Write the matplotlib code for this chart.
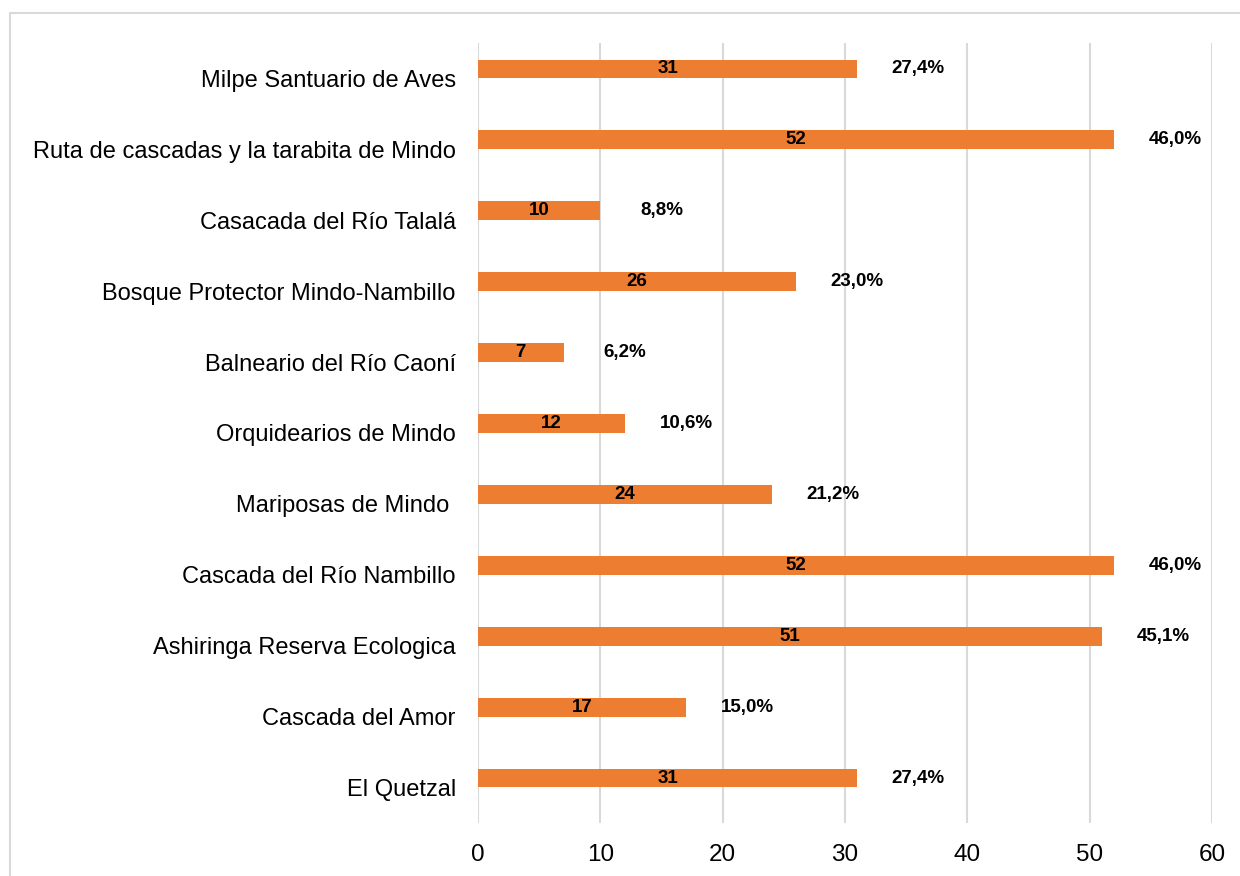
import matplotlib.pyplot as plt
from matplotlib.patches import Rectangle

# data, top to bottom
categories = [
    "Milpe Santuario de Aves",
    "Ruta de cascadas y la tarabita de Mindo",
    "Casacada del Río Talalá",
    "Bosque Protector Mindo-Nambillo",
    "Balneario del Río Caoní",
    "Orquidearios de Mindo",
    "Mariposas de Mindo ",
    "Cascada del Río Nambillo",
    "Ashiringa Reserva Ecologica",
    "Cascada del Amor",
    "El Quetzal",
]
counts = [31, 52, 10, 26, 7, 12, 24, 52, 51, 17, 31]
percents = ["27,4%", "46,0%", "8,8%", "23,0%", "6,2%", "10,6%",
            "21,2%", "46,0%", "45,1%", "15,0%", "27,4%"]
x_ticks = [0, 10, 20, 30, 40, 50, 60]

plt.rcParams['font.family'] = ['Liberation Sans', 'DejaVu Sans']

fig = plt.figure(figsize=(12.4, 8.76), dpi=100)
ax = fig.add_axes([478 / 1240, 1 - 823 / 876, (1212 - 478) / 1240, (823 - 43) / 876])

# light frame around the chart area
fig.patches.append(Rectangle((10 / 1240, -0.05), 1.1, 1 - 13 / 876 + 0.05,
                             transform=fig.transFigure, fill=False,
                             edgecolor='#d9d9d9', linewidth=1.5))

pos = list(range(len(categories)))
bar_pos = [p - 0.134 for p in pos]
ax.barh(bar_pos, counts, height=0.265, color='#ED7D31', zorder=3)

for y, c, p in zip(bar_pos, counts, percents):
    ax.text(c / 2, y, str(c), ha='center', va='center', fontsize=13.5,
            fontweight='bold', color='black', zorder=4)
    ax.text(c + 5.0, y, p, ha='center', va='center', fontsize=13.5,
            fontweight='bold', color='black', zorder=4)

ax.set_xlim(0, 60)
ax.set_ylim(len(categories) - 0.5, -0.5)
ax.set_xticks(x_ticks)
ax.set_yticks(pos)
ax.set_yticklabels(categories)
ax.tick_params(axis='y', length=0, pad=16, labelsize=17)
ax.tick_params(axis='x', length=0, pad=15, labelsize=17.5)
ax.grid(axis='x', color='#d9d9d9', linewidth=1.5, zorder=0)
for s in ax.spines.values():
    s.set_visible(False)

fig.savefig('out.png', dpi=100)
